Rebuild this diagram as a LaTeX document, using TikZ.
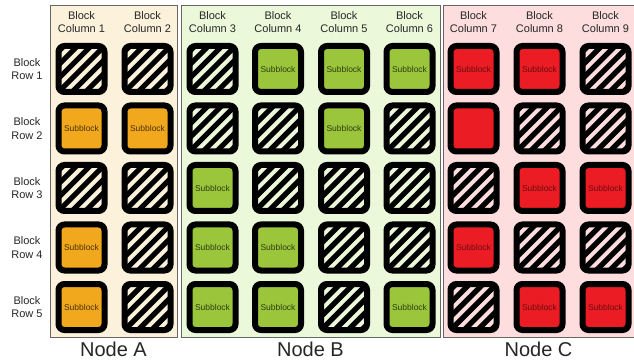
\documentclass[tikz,border=0pt]{standalone}
\usepackage{fontspec}
\setmainfont{Liberation Sans}
\definecolor{panA}{HTML}{FCF1DB}
\definecolor{panB}{HTML}{EBF9DA}
\definecolor{panC}{HTML}{FDDDDD}
\definecolor{subA}{HTML}{F2A81D}
\definecolor{subB}{HTML}{9BC63C}
\definecolor{subC}{HTML}{EC1C24}
\tikzset{
  panel/.style={draw=black!60, line width=0.9pt},
  blk/.style={draw=black, line width=6pt, rounded corners=6pt, minimum width=46pt,
    minimum height=46pt, inner sep=0pt, font=\fontsize{8.5}{10}\selectfont},
  hatch/.style={blk, path picture={
    \foreach \k in {-5,...,5}{
      \draw[black, line width=5.3pt] ([xshift=\k*13.5pt]path picture bounding box.center)
        ++(-40pt,-40pt) -- ++(80pt,80pt);}}},
  hA/.style={hatch, fill=panA, node contents={}},
  hB/.style={hatch, fill=panB, node contents={}},
  hC/.style={hatch, fill=panC, node contents={}},
  sA/.style={blk, fill=subA, text=subA!30!black, node contents={Subblock}},
  sB/.style={blk, fill=subB, text=subB!30!black, node contents={Subblock}},
  sC/.style={blk, fill=subC, text=subC!45!black, node contents={Subblock}},
  sCn/.style={blk, fill=subC, node contents={}},
  lbl/.style={font=\fontsize{11}{13.5}\selectfont, align=center, text=black!85},
  nodelbl/.style={font=\fontsize{20}{24}\selectfont, text=black!85},
}
\begin{document}
\begin{tikzpicture}[x=1pt,y=-1pt]
\useasboundingbox (0,0) rectangle (634,363);
\draw[panel, fill=panA] (50.5,5) rectangle (177,337.5);
\draw[panel, fill=panB] (181,5) rectangle (440,337.5);
\draw[panel, fill=panC] (443.5,5) rectangle (634.5,337.5);
\foreach \c/\r/\t in {
  1/1/hA, 2/1/hA, 3/1/hB, 4/1/sB, 5/1/sB, 6/1/sB, 7/1/sC, 8/1/sC, 9/1/hC,
  1/2/sA, 2/2/sA, 3/2/hB, 4/2/hB, 5/2/sB, 6/2/hB, 7/2/sCn, 8/2/hC, 9/2/hC,
  1/3/hA, 2/3/hA, 3/3/sB, 4/3/hB, 5/3/hB, 6/3/hB, 7/3/hC, 8/3/sC, 9/3/sC,
  1/4/sA, 2/4/hA, 3/4/sB, 4/4/sB, 5/4/hB, 6/4/hB, 7/4/sC, 8/4/hC, 9/4/hC,
  1/5/sA, 2/5/hA, 3/5/sB, 4/5/sB, 5/5/hB, 6/5/sB, 7/5/hC, 8/5/sC, 9/5/sC}{
  \pgfmathsetmacro\bx{{81.5,147.5,212.5,278,344,409.5,473.5,539.5,605.5}[\c-1]}
  \pgfmathsetmacro\by{69+(\r-1)*59.5}
  \node (b\c\r) at (\bx,\by) [\t];
}
\foreach \c in {1,...,9}{
  \pgfmathsetmacro\bx{{81.5,147.5,212.5,278,344,409.5,473.5,539.5,605.5}[\c-1]}
  \node[lbl] (col\c) at (\bx,22) {Block\\Column \c};
}
\foreach \r in {1,...,5}{
  \pgfmathsetmacro\by{69+(\r-1)*59.5}
  \node[lbl] (row\r) at (27,\by) {Block\\Row \r};
}
\node[nodelbl] (nA) at (113.5,349) {Node A};
\node[nodelbl] (nB) at (310.5,349) {Node B};
\node[nodelbl] (nC) at (538.5,349) {Node C};
\end{tikzpicture}
\end{document}
